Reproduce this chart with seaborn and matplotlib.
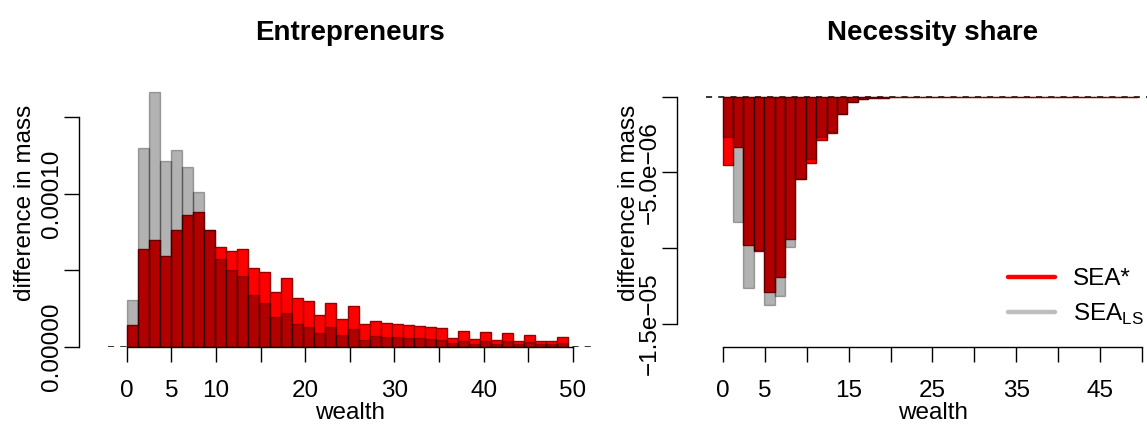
import matplotlib
matplotlib.use("Agg")
import matplotlib.pyplot as plt
from matplotlib.lines import Line2D
import numpy as np
import seaborn as sns

# 40 wealth bins of equal width, bars start at 0
bin_width = 1.237
wealth = (np.arange(40) + 0.5) * bin_width

# Entrepreneurs: difference in mass (units of 1e-5)
ent_star = np.array([1.42, 6.38, 6.97, 5.93, 7.63, 8.63, 8.78, 7.65, 6.54, 6.27,
                     6.36, 5.16, 4.90, 3.55, 4.47, 3.16, 2.98, 2.07, 2.88, 1.83,
                     2.66, 1.46, 1.68, 1.57, 1.48, 1.39, 1.33, 1.26, 1.20, 0.59,
                     1.05, 0.52, 0.94, 0.44, 0.87, 0.39, 0.76, 0.35, 0.35, 0.65]) * 1e-5
ent_ls = np.array([3.05, 12.96, 16.62, 12.16, 12.83, 11.72, 10.11, 7.60, 5.71, 5.01,
                   4.62, 3.38, 2.88, 1.92, 2.22, 1.48, 1.26, 0.92, 1.26, 0.76,
                   1.13, 0.44, 0.70, 0.65, 0.61, 0.57, 0.54, 0.48, 0.44, 0.22,
                   0.39, 0.20, 0.35, 0.17, 0.35, 0.17, 0.28, 0.15, 0.15, 0.26]) * 1e-5

# Necessity share: difference in mass (units of 1e-6)
nec_star = np.array([-4.51, -3.30, -9.79, -10.19, -12.87, -11.88, -9.39, -5.43, -4.40, -2.86,
                     -2.38, -1.17, -0.35, -0.18, -0.11, -0.07, -0.05, -0.04, -0.03, -0.02,
                     -0.02, -0.015, -0.01, -0.01, -0.008, -0.006, -0.005, -0.004, -0.003, -0.003,
                     -0.002, -0.002, -0.001, -0.001, -0.001, -0.001, -0.0005, -0.0005, -0.0005, -0.0005]) * 1e-6
nec_ls = np.array([-2.64, -8.25, -12.65, -10.10, -13.75, -13.14, -9.90, -5.40, -4.11, -2.64,
                   -2.36, -1.15, -0.34, -0.17, -0.10, -0.06, -0.04, -0.03, -0.02, -0.02,
                   -0.015, -0.01, -0.01, -0.008, -0.006, -0.005, -0.004, -0.003, -0.003, -0.002,
                   -0.002, -0.001, -0.001, -0.001, -0.001, -0.0005, -0.0005, -0.0005, -0.0005, -0.0005]) * 1e-6

ent_yticks = [0, 5e-5, 1e-4, 1.5e-4]
ent_ylabels = ["0.00000", "", "0.00010", ""]
nec_yticks = [-1.5e-5, -1e-5, -5e-6, 0]
nec_ylabels = ["\u22121.5e\u221205", "", "\u22125.0e\u221206", ""]
xticks = list(range(0, 51, 5))
ent_xlabels = ["0", "5", "10", "", "20", "", "30", "", "40", "", "50"]
nec_xlabels = ["0", "5", "", "15", "", "25", "", "35", "", "45", ""]

sns.set_style("ticks")
plt.rcParams["font.family"] = ["Liberation Sans", "DejaVu Sans"]
for key in ["text.color", "axes.labelcolor", "xtick.color", "ytick.color", "axes.edgecolor"]:
    plt.rcParams[key] = "black"

W, H = 1147, 430
fig = plt.figure(figsize=(W / 100, H / 100), dpi=100)


def px_axes(x0, x1, y0, y1):
    return fig.add_axes([x0 / W, 1 - y1 / H, (x1 - x0) / W, (y1 - y0) / H])


fs = 17.5
ax1 = px_axes(108, 592, 58, 347)
ax2 = px_axes(706, 1160, 58, 347)


def draw_panel(ax, star, ls):
    ax.axhline(0, color="black", lw=1.1, ls=(0, (4, 4)), zorder=0.5)
    sns.barplot(x=wealth, y=star, native_scale=True, orient="x", width=1, color="red",
                saturation=1, edgecolor="#990000", linewidth=1, errorbar=None, ax=ax, zorder=2)
    sns.barplot(x=wealth, y=ls, native_scale=True, orient="x", width=1, color="black",
                alpha=0.3, saturation=1, edgecolor="black", linewidth=1, errorbar=None, ax=ax, zorder=3)


draw_panel(ax1, ent_star, ent_ls)
draw_panel(ax2, nec_star, nec_ls)

ax1.set_xlim(-2.095, 52.13)
ax1.set_ylim(-0.3 / 1.53e6, 288.7 / 1.53e6)
ax2.set_xlim(-1.99, 52.11)
ax2.set_ylim(-250.3 / 1.515e7, 38.7 / 1.515e7)

for ax, yt, yl, xl, ybounds in [(ax1, ent_yticks, ent_ylabels, ent_xlabels, (0, 1.5e-4)),
                                (ax2, nec_yticks, nec_ylabels, nec_xlabels, (-1.5e-5, 0))]:
    ax.spines[["top", "right"]].set_visible(False)
    ax.spines["left"].set_position(("outward", 21))
    ax.spines["left"].set_bounds(*ybounds)
    ax.spines["bottom"].set_bounds(0, 50)
    for s in ["left", "bottom"]:
        ax.spines[s].set_linewidth(1)
    ax.set_xticks(xticks)
    ax.set_xticklabels(xl)
    ax.set_yticks(yt)
    ax.set_yticklabels(yl, rotation=90, va="center")
    ax.tick_params(axis="both", direction="out", length=11, width=1, labelsize=fs)
    ax.tick_params(axis="x", pad=13)
    ax.tick_params(axis="y", pad=0.5)
    ax.set_xlabel("wealth", fontsize=fs, labelpad=0)
    ax.set_ylabel("difference in mass", fontsize=fs, va="center")

ax1.yaxis.set_label_coords(-0.1725, 0.5)
ax2.yaxis.set_label_coords(-0.1707, 0.5)
ax1.set_title("Entrepreneurs", fontsize=20, fontweight="bold", pad=13)
ax2.set_title("Necessity share", fontsize=20, fontweight="bold", pad=13)

handles = [Line2D([0], [0], color="red", lw=3.2), Line2D([0], [0], color="#BEBEBE", lw=3.2)]
ax2.legend(handles, ["SEA*", r"SEA$_\mathregular{LS}$"], loc="center left",
           bbox_to_anchor=(1008 / W, 1 - 297.5 / H), bbox_transform=fig.transFigure,
           frameon=False, fontsize=fs, handlelength=1.93, handletextpad=0.75,
           labelspacing=0.45, borderpad=0, borderaxespad=0)

fig.savefig("out.png", dpi=100)
